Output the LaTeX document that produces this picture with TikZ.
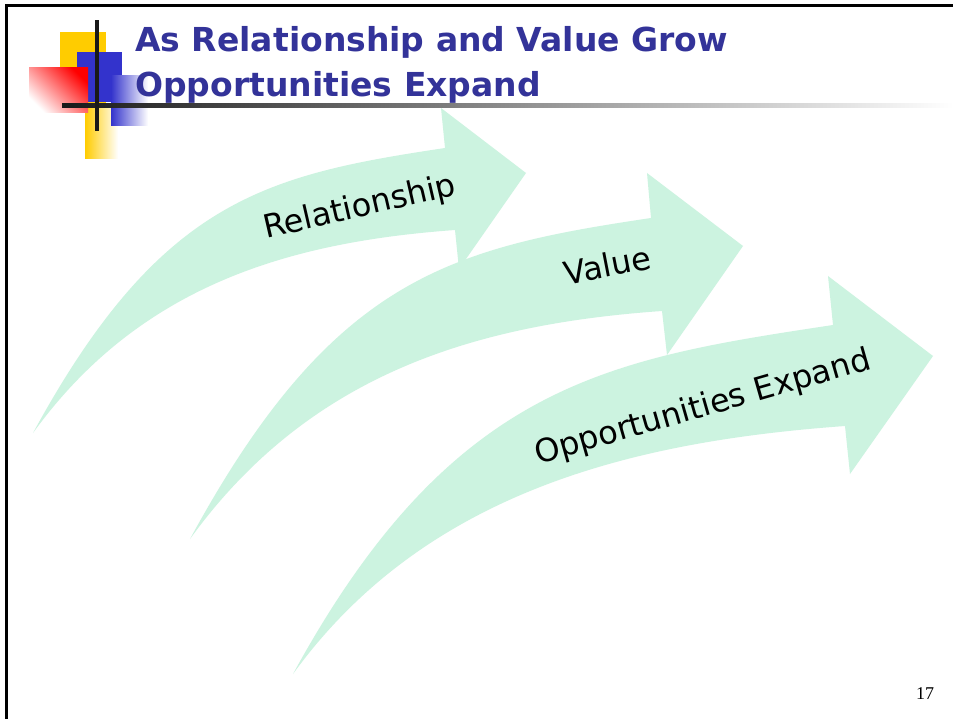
\documentclass[tikz,border=0pt]{standalone}
\usepackage{fontspec}
\setmainfont{DejaVu Sans}
\newfontfamily\numfont{Liberation Serif}
\definecolor{titleblue}{HTML}{333399}
\definecolor{mint}{HTML}{CCF3E0}
\definecolor{pixyellow}{HTML}{FFCC00}
\definecolor{pixblue}{HTML}{3333CC}
\definecolor{pixred}{HTML}{FF0000}
\tikzset{
  arrowfill/.style={fill=mint},
  titletext/.style={anchor=base west, inner sep=0pt, text=titleblue,
    font=\fontsize{33}{40}\selectfont\bfseries},
  arrowlabel/.style={inner sep=0pt, text=black, font=\fontsize{32}{38}\selectfont},
  pagenum/.style={inner sep=0pt, font=\numfont\fontsize{18}{22}\selectfont}
}
\begin{document}
\begin{tikzpicture}[x=1pt,y=-1pt]
\useasboundingbox (0,0) rectangle (953,719);
\fill[white] (0,0) rectangle (953,719);

% slide frame
\draw[line width=3pt] (6,719) -- (6,5.5) -- (953,5.5);

% corner ornament
\fill[pixyellow] (60,32) rectangle (106,107);
\shade[left color=pixyellow, right color=white] (85,107) rectangle (118,159);
\fill[pixblue] (77,52) rectangle (122,102);
\shade[left color=pixblue, right color=white] (111,76) rectangle (148,126);
\shade[shading=axis, top color=pixred, bottom color=white, shading angle=-45] (29,68) rectangle (88,113);
\shade[left color=black!90, middle color=black!45, right color=white] (62,104) rectangle (953,107.5);
\fill[black!90] (95,20) rectangle (99,131);

% title
\node[titletext] (title1) at (135,52) {As Relationship and Value Grow};
\node[titletext] (title2) at (135,97) {Opportunities Expand};

% curved arrow 1
\fill[arrowfill] (33,433) .. controls (160,200) and (265,175) .. (445,148)
  -- (441,108) -- (526,173) -- (459,269) -- (455,230)
  .. controls (290,242) and (140,285) .. cycle;
% curved arrow 2
\fill[arrowfill] (190,539) .. controls (332,278) and (449,248) .. (651,218)
  -- (647,173) -- (743,246) -- (667,355) -- (662,311)
  .. controls (477,324) and (310,373) .. cycle;
% curved arrow 3
\fill[arrowfill] (293,674) .. controls (452,383) and (608,359) .. (833,325)
  -- (828,276) -- (933,356) -- (850,474) -- (845,426)
  .. controls (639,441) and (427,489) .. cycle;

% arrow labels
\node[arrowlabel, rotate=13] (rel) at (360,208) {Relationship};
\node[arrowlabel, rotate=11] (val) at (607,265) {Value};
\node[arrowlabel, rotate=16] (opp) at (703,408) {Opportunities Expand};

% page number
\node[pagenum] (page) at (925,694) {17};
\end{tikzpicture}
\end{document}
